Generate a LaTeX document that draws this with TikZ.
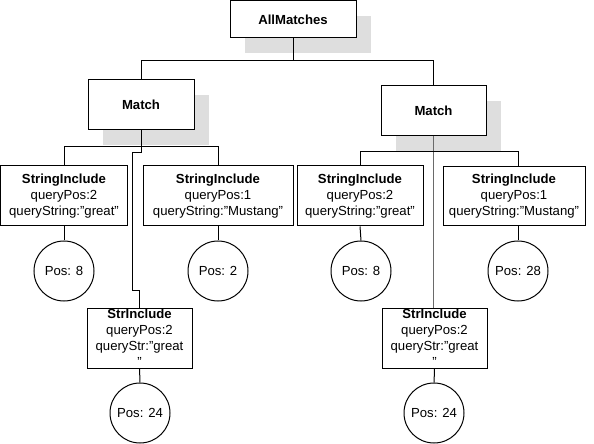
\documentclass[tikz,border=0pt]{standalone}
\usepackage{fontspec}
\setmainfont{Liberation Sans}
\usepackage{xcolor}
\usepackage{tikz}
\usetikzlibrary{calc,shadows}
\definecolor{ink}{HTML}{000000}
\definecolor{shade}{HTML}{DEDEDE}
\definecolor{trunkc}{HTML}{6A6A6A}
\tikzset{
  box/.style={draw=ink, line width=1bp, fill=white, inner sep=0pt, align=center},
  shadowed/.style={box, drop shadow={shadow xshift=15bp, shadow yshift=-15bp, fill=shade, opacity=1}},
  posc/.style={draw=ink, line width=1bp, circle, fill=white, minimum size=60bp, inner sep=0pt},
  wire/.style={draw=ink, line width=1bp},
  trunk/.style={draw=trunkc, line width=1.5bp},
  lab/.style={align=center},
}

\begin{document}
\begin{tikzpicture}[x=1bp,y=-1bp,font=\fontsize{13.2}{16}\selectfont]
  \useasboundingbox (0,0) rectangle (594,444);
  % top and match boxes
  \node[shadowed, minimum width=126bp, minimum height=37bp] (all) at (293,19.5) {\textbf{AllMatches}};
  \node[shadowed, minimum width=106bp, minimum height=50bp] (lm) at (141,105) {\textbf{Match}};
  \node[shadowed, minimum width=105bp, minimum height=50bp] (rm) at (433.5,111) {\textbf{Match}};
  % string include boxes
  \node[box, minimum width=127bp, minimum height=60bp] (si1) at (64,196) {\textbf{StringInclude}\\queryPos:2\\queryString:"great"};
  \node[box, minimum width=150bp, minimum height=60bp] (si2) at (218,196) {\textbf{StringInclude}\\queryPos:1\\queryString:"Mustang"};
  \node[box, minimum width=126bp, minimum height=60bp] (si3) at (360,196) {\textbf{StringInclude}\\queryPos:2\\queryString:"great"};
  \node[box, minimum width=142bp, minimum height=59bp] (si4) at (514,196.5) {\textbf{StringInclude}\\queryPos:1\\queryString:"Mustang"};
  \node[box, minimum width=105bp, minimum height=60bp,
        label={[lab]center:{\textbf{StrInclude}\\queryPos:2\\queryStr:”great\\”}}] (sl) at (139.5,338) {};
  \node[box, minimum width=105bp, minimum height=60bp,
        label={[lab]center:{\textbf{StrInclude}\\queryPos:2\\queryStr:”great\\”}}] (sr) at (434.5,338) {};
  % positions
  \node[posc] (p1) at (64,271) {Pos: 8};
  \node[posc] (p2) at (218,271) {Pos: 2};
  \node[posc] (p3) at (361,271) {Pos: 8};
  \node[posc] (p4) at (518,271) {Pos: 28};
  \node[posc] (p5) at (140,413) {Pos: 24};
  \node[posc] (p6) at (434,413) {Pos: 24};
  % connectors
  \coordinate (j0) at (293,61);
  \coordinate (j1) at (141,147);
  \coordinate (k1) at (132,290);
  \coordinate (j2) at (434,152);
  \draw[wire] (all.south) -- (j0);
  \draw[wire] (j0) -| (lm.north);
  \draw[wire] (j0) -| (rm.north);
  \draw[wire] (lm.south) -- (j1);
  \draw[wire] (j1) -| (si1.north);
  \draw[wire] (j1) -| (si2.north);
  \draw[wire] (j1) -- ++(0,6) -| (k1) -| (sl.north);
  \draw[trunk] (rm.south) -- (rm.south |- sr.north);
  \draw[wire] (j2) -| (si3.north);
  \draw[wire] (j2) -| (p4 |- si4.north);
  \draw[wire] (si1) -- (p1);
  \draw[wire] (si2) -- (p2);
  \draw[wire] (si3.south) -- (p3.north);
  \draw[wire] (p4 |- si4.south) -- (p4.north);
  \draw[wire] (sl) -- (p5);
  \draw[wire] (sr) -- (p6);
\end{tikzpicture}
\end{document}
